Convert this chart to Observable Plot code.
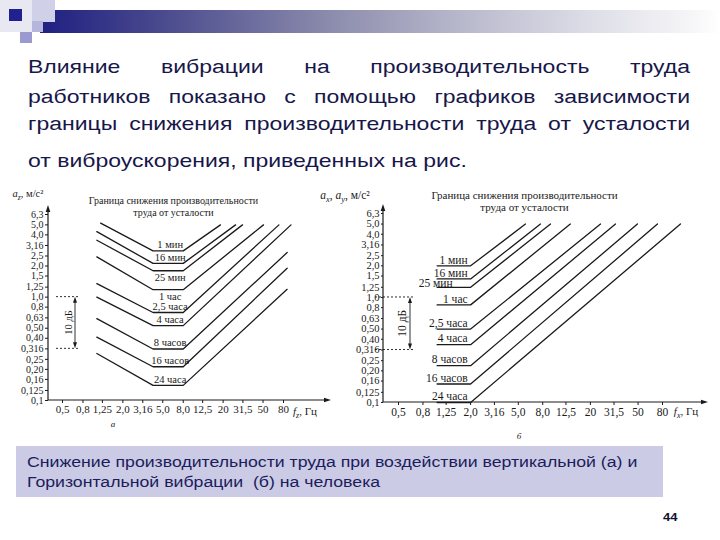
<!DOCTYPE html>
<html>
<head>
<meta charset="utf-8">
<script src="https://cdn.jsdelivr.net/npm/d3@7"></script>
<script src="https://cdn.jsdelivr.net/npm/@observablehq/plot@0.6"></script>
<style>
  html, body { margin: 0; padding: 0; background: #fff; }
  #slide { position: relative; width: 720px; height: 540px; overflow: hidden; background: #fff;
           font-family: "Liberation Sans", Arial, sans-serif; }
  .abs { position: absolute; }
  .para { left: 28px; width: 662px; font-size: 23px; line-height: 23px; color: #17174a;
          transform: scaleY(0.83); transform-origin: 0 0; white-space: nowrap; }
  .just { text-align: justify; text-align-last: justify; white-space: normal; }
  .cap { left: 27px; font-size: 17.7px; line-height: 17.7px; color: #1c1c5c;
         transform: scaleY(0.83); transform-origin: 0 0; white-space: nowrap; }
</style>
</head>
<body>
<div id="slide">
  <!-- top decoration -->
  <div class="abs" style="left:0;top:0;width:32px;height:32px;background:#e8e8f3"></div>
  <div class="abs" style="left:40px;top:10px;width:680px;height:23px;background:linear-gradient(to right,#1f1f82 0%,#4a4a8e 18%,#8a8aac 42%,#b8b8cc 62%,#dcdce6 80%,#f6f6f8 96%,#ffffff 100%)"></div>
  <div class="abs" style="left:32px;top:0;width:23px;height:22px;background:#d0d0e8"></div>
  <div class="abs" style="left:32px;top:21px;width:11px;height:11px;background:#b6b6dc"></div>
  <div class="abs" style="left:9px;top:9px;width:13px;height:12px;background:#20208e"></div>
  <div class="abs" style="left:20px;top:32px;width:12px;height:11px;background:#9a9ad0"></div>

  <!-- paragraph -->
  <div class="abs para just" style="top:57px">Влияние вибрации на производительность труда</div>
  <div class="abs para just" style="top:87px">работников показано с помощью графиков зависимости</div>
  <div class="abs para just" style="top:114px">границы снижения производительности труда от усталости</div>
  <div class="abs para" style="top:151px">от виброускорения, приведенных на рис.</div>

  <!-- charts -->
  <div id="chartA" class="abs" style="left:0;top:180px;width:340px;height:255px"></div>
  <div id="chartB" class="abs" style="left:340px;top:180px;width:380px;height:262px"></div>

  <!-- caption -->
  <div class="abs" style="left:16px;top:446px;width:647px;height:51px;background:#cbcbe5"></div>
  <div class="abs cap" style="top:455px">Снижение производительности труда при воздействии вертикальной (а) и</div>
  <div class="abs cap" style="top:475px">Горизонтальной вибрации&nbsp; (б) на человека</div>

  <div class="abs" style="left:663px;top:511px;font-size:13px;font-weight:bold;color:#111133;transform:scaleY(0.85);transform-origin:0 0">44</div>
</div>

<script>
// ---------- data ----------
const durations = ["1 мин", "16 мин", "25 мин", "1 час", "2,5 часа", "4 часа", "8 часов", "16 часов", "24 часа"];

const yTicks = [6.3, 5.0, 4.0, 3.16, 2.5, 2.0, 1.6, 1.25, 1.0, 0.8, 0.63, 0.5, 0.4, 0.316, 0.25, 0.2, 0.16, 0.125, 0.1];
const yTickLabels = ["6,3", "5,0", "4,0", "3,16", "2,5", "2,0", "1,5", "1,25", "1,0", "0,8", "0,63", "0,50", "0,40", "0,316", "0,25", "0,20", "0,16", "0,125", "0,1"];
const xTicks = [0.5, 0.8, 1.25, 2.0, 3.16, 5.0, 8.0, 12.5, 20, 31.5, 50, 80];
const xTickLabels = ["0,5", "0,8", "1,25", "2,0", "3,16", "5,0", "8,0", "12,5", "20", "31,5", "50", "80"];

// (а) vertical vibration: start point, flat 4–8 Hz level, end point
const vertStartF = [1.2, 1.1, 1.1, 1.1, 1.1, 1.1, 1.1, 1.1, 1.1];
const vertStartA = [5.2, 4.3, 3.55, 2.45, 1.35, 1.0, 0.62, 0.41, 0.285];
const vertFlatF = [4, 8];
const vertLevel = [2.8, 2.12, 1.8, 1.18, 0.71, 0.53, 0.315, 0.212, 0.14];
const vertEndF = [18.8, 26.6, 31.2, 50.5, 72, 95, 87, 87, 87];
const vertEndA = [5.0, 5.0, 5.0, 5.0, 5.0, 5.0, 2.7, 1.9, 1.19];

// (б) horizontal vibration: flat 1–2 Hz level, end point
const horizFlatF = [1.05, 2];
const horizLevel = [2.0, 1.5, 1.25, 0.85, 0.5, 0.355, 0.224, 0.15, 0.1];
const horizEndF = [5.74, 7.66, 9.29, 13.6, 24.3, 32.4, 49.4, 72.6, 113];
const horizEndA = [5.0, 5.0, 5.0, 5.0, 5.0, 5.0, 5.0, 5.0, 5.0];

const dbSpan = [1.0, 0.316];
const chartTitle = "Граница снижения производительности\nтруда от усталости";

// ---------- tables ----------
const vertRows = durations.flatMap((s, i) => [
  {s, f: vertStartF[i], a: vertStartA[i]},
  {s, f: vertFlatF[0], a: vertLevel[i]},
  {s, f: vertFlatF[1], a: vertLevel[i]},
  {s, f: vertEndF[i], a: vertEndA[i]}
]);
const horizRows = durations.flatMap((s, i) => [
  {s, f: horizFlatF[0], a: horizLevel[i]},
  {s, f: horizFlatF[1], a: horizLevel[i]},
  {s, f: horizEndF[i], a: horizEndA[i]}
]);
const yTickRows = yTicks.map((v, i) => ({v, t: yTickLabels[i]}));
const xTickRows = xTicks.map((v, i) => ({v, t: xTickLabels[i]}));
const labelRows = durations.map((s, i) => ({s, v: vertLevel[i], h: horizLevel[i]}));
const belowLeft = new Set(["25 мин", "1 час"]);

const INK = "#1a1a1a";
const SERIF = "'Liberation Serif', 'DejaVu Serif', serif";

// axis marks: tick marks from Plot axes, labels as text marks (log-scale axes would drop some labels)
function axisMarks(ySize, xSize, yTick) {
  return [
    Plot.axisY({ticks: yTicks, tickFormat: () => "", tickSize: yTick, label: null}),
    Plot.axisX({ticks: xTicks, tickFormat: () => "", tickSize: 3, label: null}),
    Plot.text(yTickRows, {y: "v", text: "t", frameAnchor: "left", textAnchor: "end",
      dx: -(yTick + 2), fontSize: ySize, fill: INK}),
    Plot.text(xTickRows, {x: "v", text: "t", frameAnchor: "bottom", lineAnchor: "top",
      dy: 5, fontSize: xSize, fill: INK})
  ];
}

// ---------- helpers ----------
function richText(svg, x, y, parts, size) {
  const t = svg.append("text").attr("x", x).attr("y", y)
    .attr("font-family", SERIF).attr("font-size", size).attr("fill", INK);
  let shift = 0;
  for (const [txt, kind] of parts) {
    const sp = t.append("tspan").text(txt);
    const target = kind === "sub" ? 3 : 0;
    if (target !== shift) { sp.attr("dy", target - shift); shift = target; }
    if (kind === "sub") sp.attr("font-size", size * 0.72).attr("font-style", "italic");
    if (kind === "i") sp.attr("font-style", "italic");
  }
}

function decorate(plot, c) {
  const svg = d3.select(plot);
  const y = plot.scale("y");
  const g = svg.append("g").attr("stroke", INK).attr("fill", "none").attr("stroke-width", 1.2);
  g.append("line").attr("x1", c.axX).attr("x2", c.axX).attr("y1", c.axY).attr("y2", c.axTop + 5);
  g.append("line").attr("x1", c.axX).attr("x2", c.axRight - 5).attr("y1", c.axY).attr("y2", c.axY);
  svg.append("path").attr("d", `M${c.axX},${c.axTop} l-2.3,7 l4.6,0 z`).attr("fill", INK);
  svg.append("path").attr("d", `M${c.axRight},${c.axY} l-7,-2.3 l0,4.6 z`).attr("fill", INK);

  // 10 dB bracket
  const [hi, lo] = dbSpan.map(v => y.apply(v));
  const b = svg.append("g").attr("stroke", INK).attr("fill", "none").attr("stroke-width", 0.9);
  for (const yy of [hi, lo]) {
    b.append("line").attr("x1", c.dbX1).attr("x2", c.dbX2).attr("y1", yy).attr("y2", yy)
      .attr("stroke-dasharray", "2,2");
  }
  b.append("line").attr("x1", c.dbArrow).attr("x2", c.dbArrow).attr("y1", hi + 5).attr("y2", lo - 5);
  svg.append("path").attr("d", `M${c.dbArrow},${hi} l-2,6 l4,0 z`).attr("fill", INK);
  svg.append("path").attr("d", `M${c.dbArrow},${lo} l-2,-6 l4,0 z`).attr("fill", INK);
  svg.append("text").attr("transform", `translate(${c.dbText},${(hi + lo) / 2}) rotate(-90)`)
    .attr("text-anchor", "middle").attr("dy", "0.35em")
    .attr("font-family", SERIF).attr("font-size", c.dbSize).attr("fill", INK).text("10 дБ");

  richText(svg, c.yLab[0], c.yLab[1], c.yParts, c.labSize);
  richText(svg, c.xLab[0], c.xLab[1], c.xParts, c.xSize);
  svg.append("text").attr("x", c.letter[0]).attr("y", c.letter[1]).attr("text-anchor", "middle")
    .attr("font-family", SERIF).attr("font-style", "italic").attr("font-size", 9).attr("fill", INK)
    .text(c.letter[2]);
}

// ---------- chart а ----------
const plotA = Plot.plot({
  width: 340, height: 255,
  marginLeft: 48, marginRight: 10, marginTop: 26, marginBottom: 35,
  x: {type: "log", domain: [0.5, 80], range: [62, 283]},
  y: {type: "log", domain: [0.1, 6.3], range: [220, 34]},
  style: {fontFamily: SERIF, color: INK, background: "transparent", overflow: "visible"},
  marks: [
    ...axisMarks(10, 11, 3),
    Plot.line(vertRows, {x: "f", y: "a", z: "s", stroke: INK, strokeWidth: 1.3}),
    Plot.text(labelRows.filter(d => !belowLeft.has(d.s)), {
      x: () => Math.sqrt(vertFlatF[0] * vertFlatF[1]), y: "v", text: "s",
      dy: -6, dx: 2, fontSize: 10.5, fill: INK
    }),
    Plot.text(labelRows.filter(d => belowLeft.has(d.s)), {
      x: () => Math.sqrt(vertFlatF[0] * vertFlatF[1]), y: "v", text: "s",
      dy: 7, dx: 2, fontSize: 10.5, fill: INK
    }),
    Plot.text([chartTitle], {frameAnchor: "top-left", dx: 125, dy: 0, text: d => d,
      textAnchor: "middle", lineAnchor: "middle", lineHeight: 1.15, fontSize: 10, fill: INK})
  ]
});
document.getElementById("chartA").appendChild(plotA);
decorate(plotA, {
  axX: 48, axY: 220, axTop: 25, axRight: 331,
  dbX1: 56, dbX2: 79, dbArrow: 75, dbText: 68, dbSize: 10.5,
  yLab: [28, 17], yParts: [["a", "i"], ["z", "sub"], [", м/с²", ""]],
  xLab: [305, 235], xParts: [["f", "i"], ["z", "sub"], [", Гц", ""]],
  labSize: 10.5, xSize: 11, letter: [113, 247, "а"]
});

// ---------- chart б ----------
const plotB = Plot.plot({
  width: 380, height: 262,
  marginLeft: 43, marginRight: 13, marginTop: 25, marginBottom: 40,
  x: {type: "log", domain: [0.5, 80], range: [58, 322]},
  y: {type: "log", domain: [0.1, 6.3], range: [222, 33]},
  style: {fontFamily: SERIF, color: INK, background: "transparent", overflow: "visible"},
  marks: [
    ...axisMarks(10.5, 11.5, 2),
    Plot.line(horizRows, {x: "f", y: "a", z: "s", stroke: INK, strokeWidth: 1.3}),
    Plot.text(labelRows.filter(d => d.s !== "25 мин"), {
      x: () => horizFlatF[1], y: "h", text: "s",
      dy: -6, dx: -3, textAnchor: "end", fontSize: 11.5, fill: INK
    }),
    Plot.text(labelRows.filter(d => d.s === "25 мин"), {
      x: () => horizFlatF[1], y: "h", text: "s",
      dy: -4, dx: -18, textAnchor: "end", fontSize: 11.5, fill: INK
    }),
    Plot.text([chartTitle], {frameAnchor: "top-left", dx: 141, dy: -4, text: d => d,
      textAnchor: "middle", lineAnchor: "middle", lineHeight: 1.1, fontSize: 11, fill: INK})
  ]
});
document.getElementById("chartB").appendChild(plotB);
decorate(plotB, {
  axX: 43, axY: 222, axTop: 24, axRight: 368,
  dbX1: 35, dbX2: 73, dbArrow: 70, dbText: 62, dbSize: 11.5,
  yLab: [5, 19], yParts: [["a", "i"], ["x", "sub"], [", ", ""], ["a", "i"], ["y", "sub"], [", м/с²", ""]],
  xLab: [346, 235], xParts: [["f", "i"], ["x", "sub"], [", Гц", ""]],
  labSize: 11.5, xSize: 11, letter: [179, 259, "б"]
});
</script>
</body>
</html>
